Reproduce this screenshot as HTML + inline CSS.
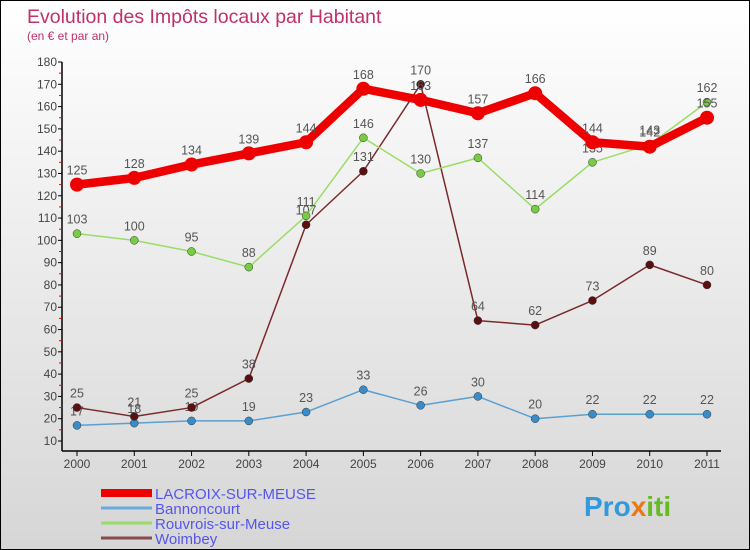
<!DOCTYPE html>
<html><head><meta charset="utf-8"><style>
body{margin:0}
#wrap{width:750px;height:550px;position:relative;overflow:hidden;box-sizing:border-box;border:1px solid #000;background:linear-gradient(#ffffff,#d6d6d6);font-family:"Liberation Sans",sans-serif}
svg text{font-family:"Liberation Sans",sans-serif}
</style></head><body>
<div id="wrap">
<svg id="chart" width="750" height="550">
<text x="26" y="22" font-size="19.5" fill="#c0306a">Evolution des Impôts locaux par Habitant</text>
<text x="26" y="39" font-size="12" fill="#c0306a">(en € et par an)</text>
<g id="axes"></g><g id="series"></g><g id="legend"></g>
<text x="583" y="515" font-size="28" font-weight="bold" fill="#3399dd">Pro<tspan fill="#ee7711">x</tspan><tspan fill="#66bb22">iti</tspan></text>
</svg>
</div>
<script>
const years=[2000,2001,2002,2003,2004,2005,2006,2007,2008,2009,2010,2011];
const lacroix=[125,128,134,139,144,168,163,157,166,144,142,155];
const bannoncourt=[17,18,19,19,23,33,26,30,20,22,22,22];
const rouvrois=[103,100,95,88,111,146,130,137,114,135,143,162];
const woimbey=[25,21,25,38,107,131,170,64,62,73,89,80];
const yTicks=[10,20,30,40,50,60,70,80,90,100,110,120,130,140,150,160,170,180];
const names=["LACROIX-SUR-MEUSE","Bannoncourt","Rouvrois-sur-Meuse","Woimbey"];
const NS="http://www.w3.org/2000/svg";
const x=i=>76+i*(630/(years.length-1));
const y=v=>440-(v-10)*(379/170);
function mk(tag,attrs,parent){const e=document.createElementNS(NS,tag);for(const k in attrs)e.setAttribute(k,attrs[k]);parent.appendChild(e);return e;}
const ax=document.getElementById('axes');
let l=mk('line',{x1:61,y1:y(180),x2:61,y2:450,stroke:'#000','stroke-width':1.5},ax);


l=mk('line',{x1:61,y1:450,x2:720,y2:450,stroke:'#000','stroke-width':1.5},ax);


yTicks.forEach((t,k)=>{
  mk('line',{x1:57,x2:61,y1:y(t),y2:y(t),stroke:'#000'},ax);
  if(k<yTicks.length-1) mk('line',{x1:58,x2:61,y1:y(t+5),y2:y(t+5),stroke:'#e00'},ax);
  const tx=mk('text',{x:56,y:y(t)+4,'font-size':12,'text-anchor':'end',fill:'#444'},ax);
  tx.textContent=t;
  
  
});
years.forEach((yr,i)=>{
  mk('line',{x1:x(i),x2:x(i),y1:450,y2:455,stroke:'#000'},ax);
  const tx=mk('text',{x:x(i),y:467,'font-size':12,'text-anchor':'middle',fill:'#444'},ax);
  tx.textContent=yr;
  
  
});
const sg=document.getElementById('series');
const defs=[[bannoncourt,'#5aa0d0','#3a8cc8',1.5,4,'bannoncourt'],[woimbey,'#7a2a2a','#5a1010',1.5,4,'woimbey'],[rouvrois,'#99dd66','#77cc44',1.5,4,'rouvrois'],[lacroix,'#ee0000','#ee0000',8.5,7,'lacroix']];
defs.forEach(([d,c,pc,w,r,n])=>{
  const p=mk('polyline',{points:d.map((v,i)=>x(i)+','+y(v)).join(' '),fill:'none',stroke:c,'stroke-width':w,'stroke-linejoin':'round'},sg);
  
  
  d.forEach((v,i)=>{
    const ci=mk('circle',{cx:x(i),cy:y(v),r:r,fill:pc,stroke:w>2?'none':'#333','stroke-width':0.5},sg);
    
    
    const t=mk('text',{x:x(i),y:y(v)-10,'font-size':12.5,'text-anchor':'middle',fill:'#555'},sg);
    t.textContent=v;
    
    
  });
});
const lg=document.getElementById('legend');
const lc=['#ee0000','#6aaad8','#99dd66','#8a4a4a'],lw=[8,3,3,3];
names.forEach((n,i)=>{
  const yy=492+i*15;
  const li=mk('line',{x1:100,x2:151,y1:yy,y2:yy,stroke:lc[i],'stroke-width':lw[i]},lg);
  
  
  const t=mk('text',{x:154,y:yy+6,'font-size':15,fill:'#5555ee'},lg);
  t.textContent=n;
  
  
});
</script>
</body></html>
